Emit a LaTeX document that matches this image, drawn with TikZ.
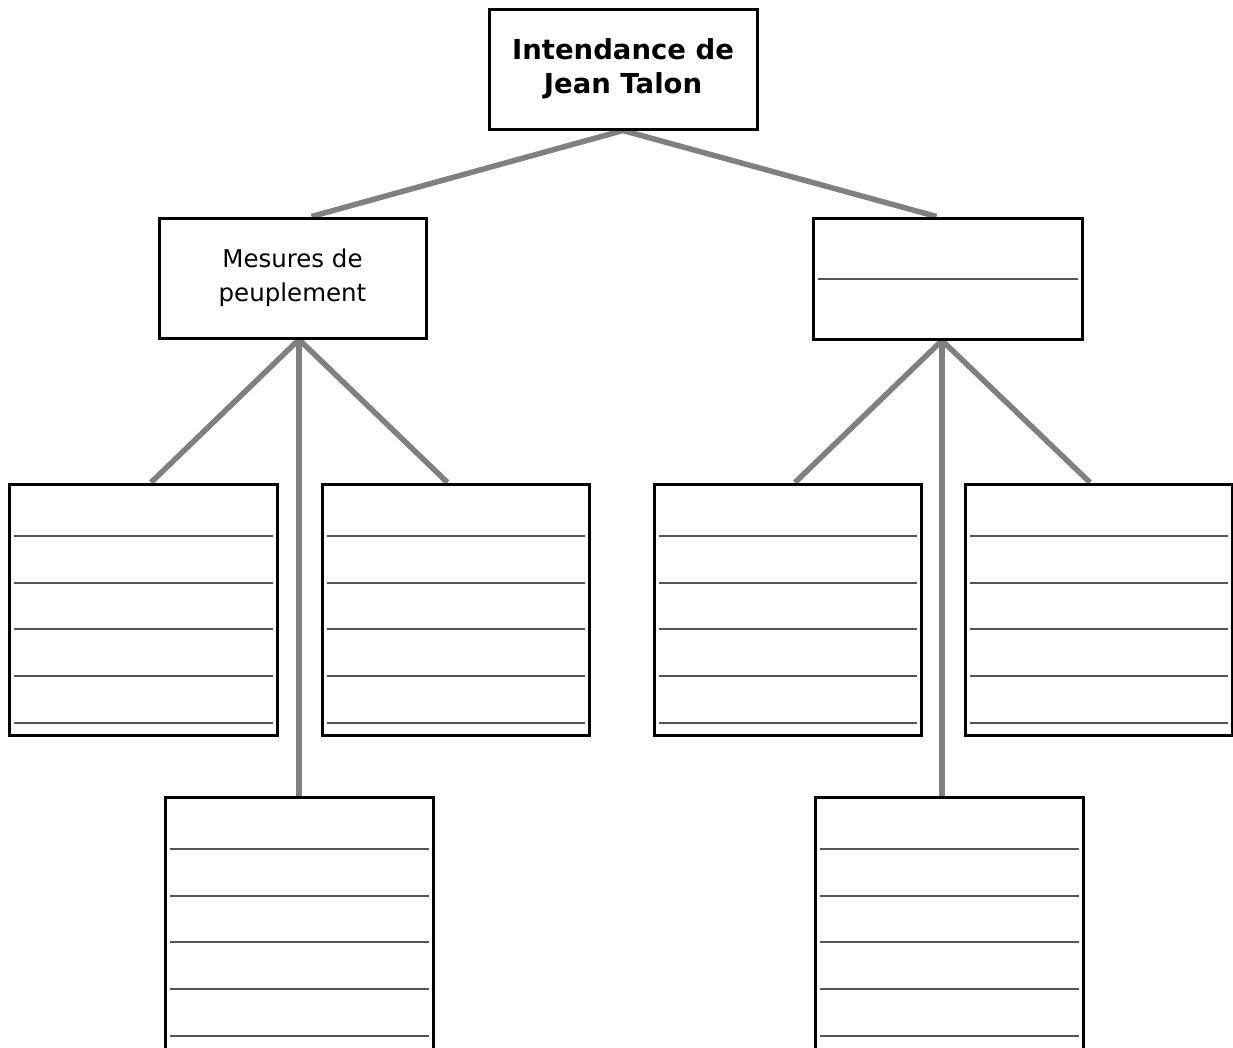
\documentclass[tikz,border=0pt]{standalone}
\usepackage{fontspec}
\setmainfont{DejaVu Sans}
\usetikzlibrary{backgrounds}
\definecolor{conn}{HTML}{808080}
\definecolor{rulecol}{HTML}{555555}
\tikzset{
  box/.style={draw=black, line width=3pt, fill=white, inner sep=0pt, align=center},
  conn/.style={draw=conn, line width=5.5pt},
  wline/.style={draw=rulecol, line width=2pt},
}
\begin{document}
\begin{tikzpicture}[x=1pt, y=-1pt]
\useasboundingbox (0,0) rectangle (1233,1047);
\clip (0,0) rectangle (1233,1047);

% top box
\node[box, minimum width=268pt, minimum height=120pt,
      font=\bfseries\fontsize{27.5}{34}\selectfont] (top) at (623,69) {Intendance de\\Jean Talon};

% middle row
\node[box, minimum width=267pt, minimum height=120pt,
      font=\fontsize{24.5}{34}\selectfont] (ml) at (292.5,278) {Mesures de\\peuplement};
\node[box, minimum width=269pt, minimum height=121pt] (mr) at (947.5,278.5) {};

% third row
\node[box, minimum width=268pt, minimum height=251pt] (b1) at (143,609.5) {};
\node[box, minimum width=267pt, minimum height=251pt] (b2) at (455.5,609.5) {};
\node[box, minimum width=267pt, minimum height=251pt] (b3) at (787.5,609.5) {};
\node[box, minimum width=267pt, minimum height=251pt] (b4) at (1098.5,609.5) {};

% bottom row (cut by the page edge)
\node[box, minimum width=268pt, minimum height=253pt] (b5) at (299,923.5) {};
\node[box, minimum width=268pt, minimum height=253pt] (b6) at (949,923.5) {};

% writing lines
\draw[wline] ([xshift=6pt]mr.west) -- ([xshift=-6pt]mr.east);
\foreach \b in {b1,b2,b3,b4,b5,b6}{
  \foreach \k in {53,100,146,193,240}{
    \draw[wline] ([xshift=6pt,yshift=-\k pt]\b.north west) -- ([xshift=-6pt,yshift=-\k pt]\b.north east);
  }
}

% connectors
\begin{scope}[on background layer]
\fill[white] (0,0) rectangle (1233,1047);
\draw[conn] (top.south) -- ([xshift=19pt]ml.north);
\draw[conn] (top.south) -- ([xshift=-11pt]mr.north);
\draw[conn] ([xshift=6.5pt]ml.south) -- ([xshift=8pt]b1.north);
\draw[conn] ([xshift=6.5pt]ml.south) -- (b5.north);
\draw[conn] ([xshift=6.5pt]ml.south) -- ([xshift=-8pt]b2.north);
\draw[conn] ([xshift=-5.5pt]mr.south) -- ([xshift=7.5pt]b3.north);
\draw[conn] ([xshift=-5.5pt]mr.south) -- ([xshift=-7pt]b6.north);
\draw[conn] ([xshift=-5.5pt]mr.south) -- ([xshift=-8.5pt]b4.north);
\end{scope}
\end{tikzpicture}
\end{document}
